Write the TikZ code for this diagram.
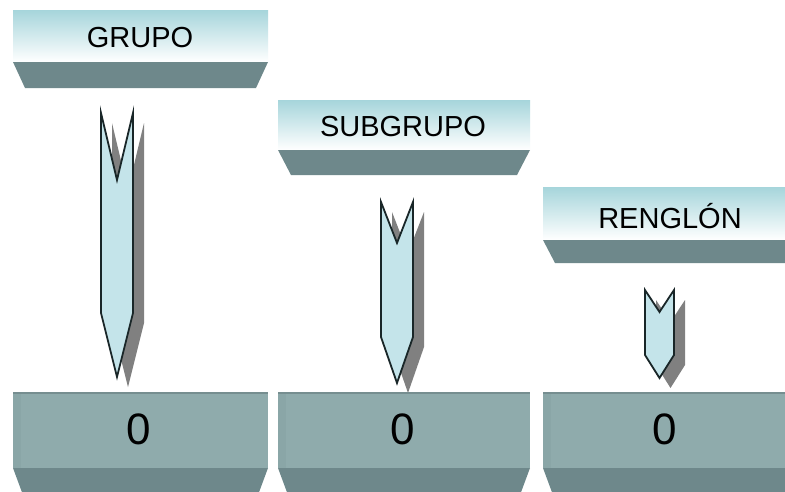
\documentclass[tikz,border=0pt]{standalone}
\usepackage{fontspec}
\setmainfont{Liberation Sans}
\definecolor{headtop}{RGB}{166,213,219}
\definecolor{bandgray}{RGB}{110,136,139}
\definecolor{facegray}{RGB}{143,171,172}
\definecolor{sidegray}{RGB}{138,166,167}
\definecolor{edgegray}{RGB}{118,142,144}
\definecolor{arrowfill}{RGB}{196,228,234}
\definecolor{arrowline}{RGB}{25,38,40}
\definecolor{shadowgray}{RGB}{128,128,128}
\tikzset{
  headface/.style={top color=headtop, bottom color=white},
  band/.style={fill=bandgray},
  face/.style={fill=facegray},
  headlabel/.style={font=\fontsize{29}{29}\selectfont, inner sep=0pt},
  countlabel/.style={font=\fontsize{44}{44}\selectfont, inner sep=0pt},
  chevron/.style={fill=arrowfill, draw=arrowline, line width=1.8pt, line join=miter},
  chevshadow/.style={fill=shadowgray}
}
% header box: left, right, top, bottom of face, bottom of band, inset
\newcommand{\headbox}[6]{%
  \fill[headface] (#1,#3) rectangle (#2,#4);
  \fill[band] (#1,#4) -- (#2,#4) -- ({#2-#6},#5) -- ({#1+#6},#5) -- cycle;
}
% count box: left, right, top, bottom of face
\newcommand{\countbox}[4]{%
  \fill[face] (#1,#3) rectangle (#2,#4);
  \fill[sidegray] (#1,#3) rectangle ({#1+8},#4);
  \fill[edgegray] (#1,#3) rectangle (#2,{#3+2});
  \fill[band] (#1,#4) -- (#2,#4) -- ({#2-10},495) -- ({#1+10},495) -- cycle;
}
% chevron: left, right, top, notch, side end, tip
\newcommand{\chevronpath}[6]{%
  (#1,#3) -- ({(#1+#2)/2},#4) -- (#2,#3) -- (#2,#5) -- ({(#1+#2)/2},#6) -- (#1,#5) -- cycle}
\newcommand{\chevronarrow}[6]{%
  \fill[chevshadow, shift={(11,10)}] \chevronpath{#1}{#2}{#3}{#4}{#5}{#6};
  \draw[chevron] \chevronpath{#1}{#2}{#3}{#4}{#5}{#6};
}
\begin{document}
\begin{tikzpicture}[x=1pt, y=-1pt]
  \useasboundingbox (0,0) rectangle (785,491);
  \clip (0,0) rectangle (785,491);
  \fill[white] (0,0) rectangle (785,491);

  % level headers
  \headbox{13}{268}{10}{62}{88}{12}
  \headbox{278}{530}{100}{150}{175}{13}
  \headbox{543}{800}{187}{240}{263}{12}
  \node[headlabel] (grupo) at (140,38) {GRUPO};
  \node[headlabel] (subgrupo) at (403,127) {SUBGRUPO};
  \node[headlabel] (renglon) at (670,216) {RENGLÓN};

  % downward chevrons
  \chevronarrow{101}{133}{113}{180}{313}{377}
  \chevronarrow{381}{413}{202}{243}{337}{383}
  \chevronarrow{645}{674}{290}{312}{355}{378}

  % count boxes
  \countbox{13}{268}{392}{468}
  \countbox{278}{530}{392}{468}
  \countbox{543}{800}{392}{468}
  \node[countlabel] (c1) at (139,429) {0};
  \node[countlabel] (c2) at (403,429) {0};
  \node[countlabel] (c3) at (665,429) {0};
\end{tikzpicture}
\end{document}
